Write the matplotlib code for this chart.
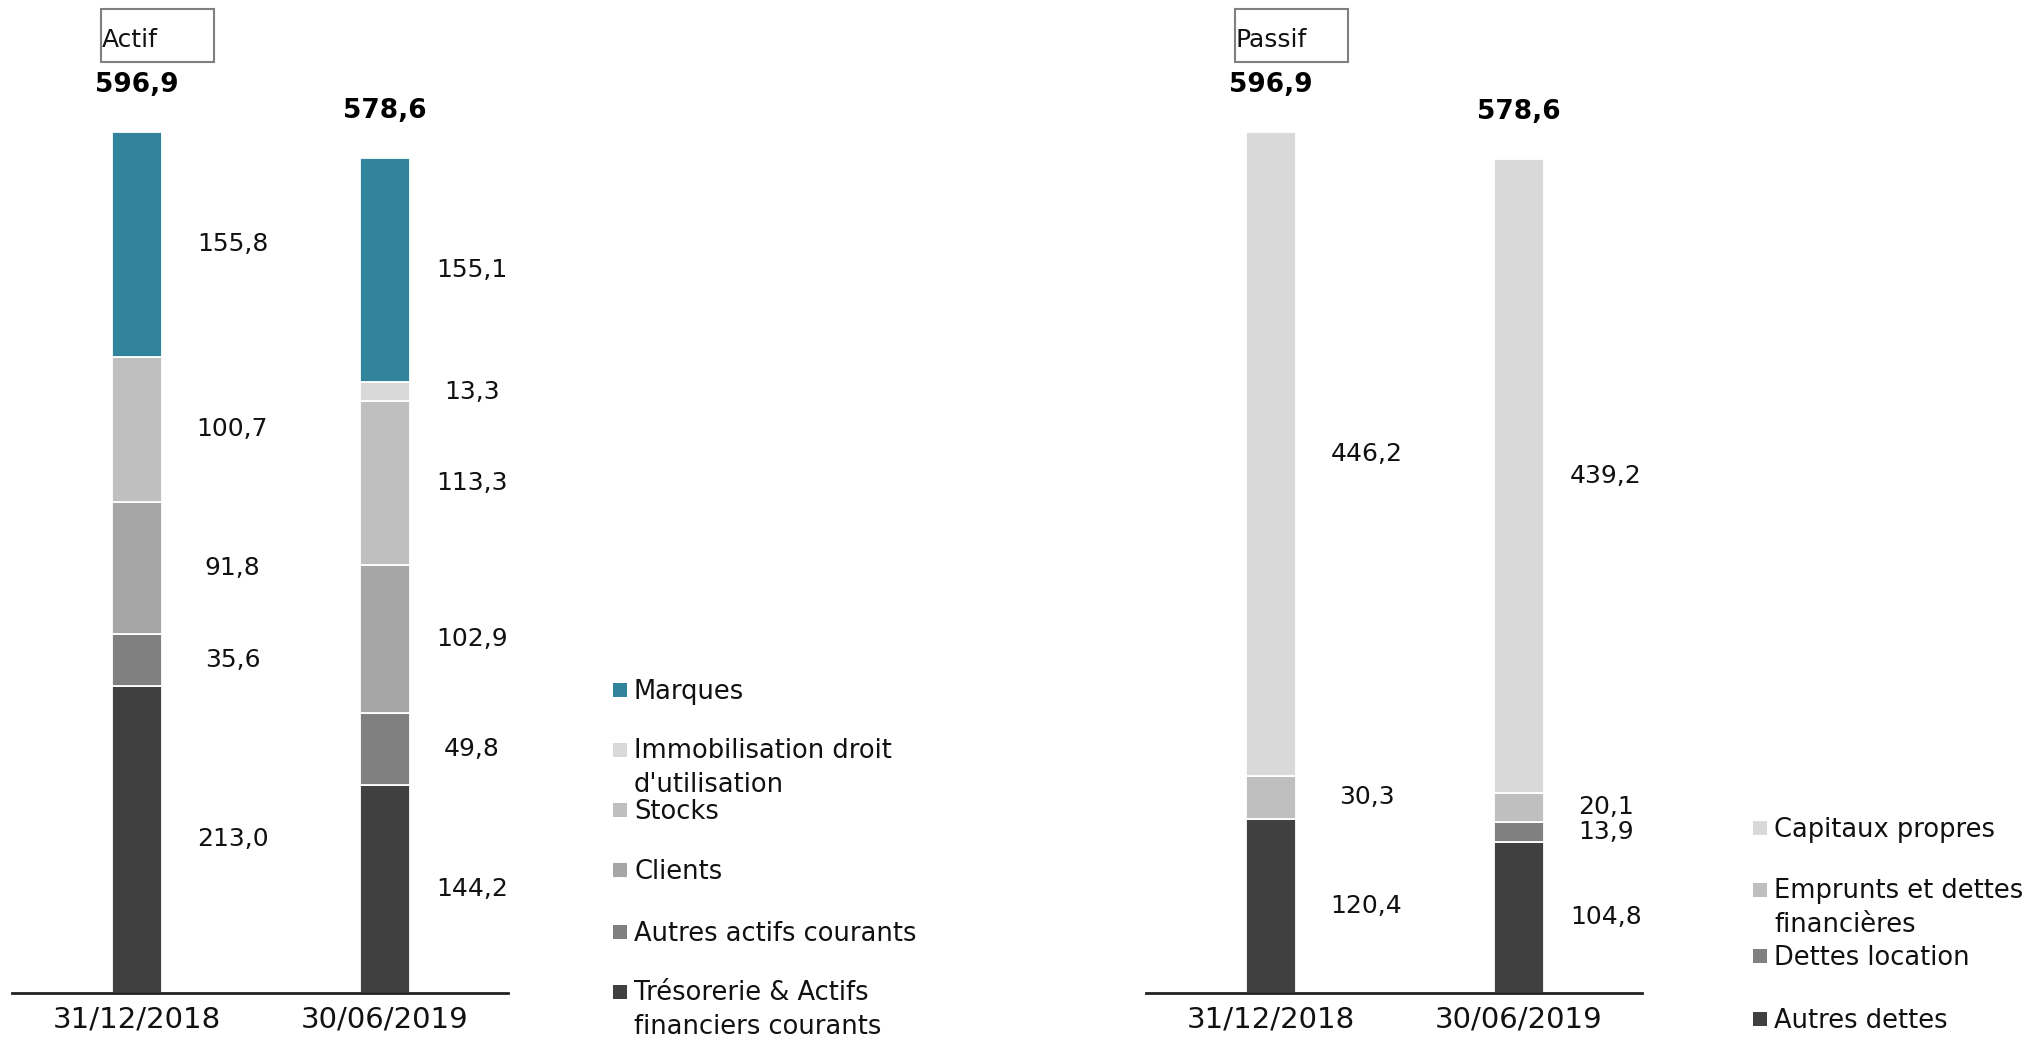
import matplotlib
matplotlib.use("Agg")
import matplotlib.pyplot as plt
from matplotlib.patches import Rectangle
import numpy as np

# data
periods = ['31/12/2018', '30/06/2019']

# Actif, bottom -> top
actif_names = ['Trésorerie & Actifs\nfinanciers courants', 'Autres actifs courants', 'Clients',
               'Stocks', "Immobilisation droit\nd'utilisation", 'Marques']
tresorerie = [213.0, 144.2]
autres_actifs = [35.6, 49.8]
clients = [91.8, 102.9]
stocks = [100.7, 113.3]
immobilisation = [0.0, 13.3]
marques = [155.8, 155.1]
actif_totals = [596.9, 578.6]

# Passif, bottom -> top
passif_names = ['Autres dettes', 'Dettes location', 'Emprunts et dettes\nfinancières', 'Capitaux propres']
autres_dettes = [120.4, 104.8]
dettes_location = [0.0, 13.9]
emprunts = [30.3, 20.1]
capitaux = [446.2, 439.2]
passif_totals = [596.9, 578.6]

actif_colors = ['#404040', '#808080', '#A6A6A6', '#BFBFBF', '#D9D9D9', '#31849B']
passif_colors = ['#404040', '#808080', '#BFBFBF', '#D9D9D9']

W, H = 2032, 1042
fig = plt.figure(figsize=(W / 100, H / 100), dpi=100)
plt.rcParams['font.family'] = 'DejaVu Sans'


def fx(x):
    return x / W


def fy(y):
    return 1 - y / H


def draw_panel(x0, series, colors, totals, title, names, legend_x, legend_y):
    # axes: 496 px wide, baseline at y=993 px
    ax = fig.add_axes([fx(x0), fy(993), 496 / W, 981 / H])
    x = np.arange(len(periods))
    bottom = np.zeros(len(periods))
    dx = [0.385, 0.35]
    for vals, col in zip(series, colors):
        vals = np.array(vals)
        ax.bar(x, vals, 0.2, bottom=bottom, color=col, edgecolor='white', linewidth=1.3, zorder=2)
        for i, v in enumerate(vals):
            if v > 0:
                ax.text(x[i] + dx[i], bottom[i] + v / 2, f"{v:.1f}".replace('.', ','),
                        ha='center', va='center', fontsize=18, color='#111111')
        bottom = bottom + vals
    for i, t in enumerate(totals):
        ax.annotate(f"{t:.1f}".replace('.', ','), xy=(x[i], bottom[i]), xytext=(0, 34),
                    textcoords='offset points', ha='center', va='center',
                    fontsize=19, fontweight='bold', annotation_clip=False)
    ax.set_xlim(-0.504, 1.496)
    ax.set_ylim(0, 680)
    for s in ['top', 'right', 'left']:
        ax.spines[s].set_visible(False)
    ax.spines['bottom'].set_linewidth(2)
    ax.spines['bottom'].set_color('#222222')
    ax.spines['bottom'].set_zorder(3)
    ax.set_yticks([])
    ax.set_xticks(x, periods)
    ax.tick_params(axis='x', length=0, pad=9, labelsize=21, labelcolor='#111111')

    # title box
    bx = x0 + 89
    fig.patches.append(Rectangle((fx(bx), fy(62)), 113 / W, 53 / H, transform=fig.transFigure,
                                 fill=False, edgecolor='#808080', linewidth=1.5))
    fig.text(fx(bx + 1), fy(47), title, ha='left', va='baseline', fontsize=18, color='#111111')

    # legend (top -> bottom); baseline alignment uses the last line, so shift wrapped labels
    line_px = 33
    for name, col, yc in zip(names[::-1], colors[::-1], legend_y):
        fig.patches.append(Rectangle((fx(legend_x), fy(yc + 7)), 14 / W, 14 / H,
                                     transform=fig.transFigure, facecolor=col, edgecolor='none'))
        extra = name.count('\n') * line_px
        fig.text(fx(legend_x + 21), fy(yc + 9 + extra), name, ha='left', va='baseline',
                 fontsize=18.5, color='#111111', linespacing=1.38)
    return ax


draw_panel(12, [tresorerie, autres_actifs, clients, stocks, immobilisation, marques],
           actif_colors, actif_totals, 'Actif', actif_names, 613,
           [690, 750, 810, 870, 932, 992])
draw_panel(1146, [autres_dettes, dettes_location, emprunts, capitaux],
           passif_colors, passif_totals, 'Passif', passif_names, 1753,
           [828, 890, 956, 1019])

fig.savefig('out.png', dpi=100, facecolor='white')
